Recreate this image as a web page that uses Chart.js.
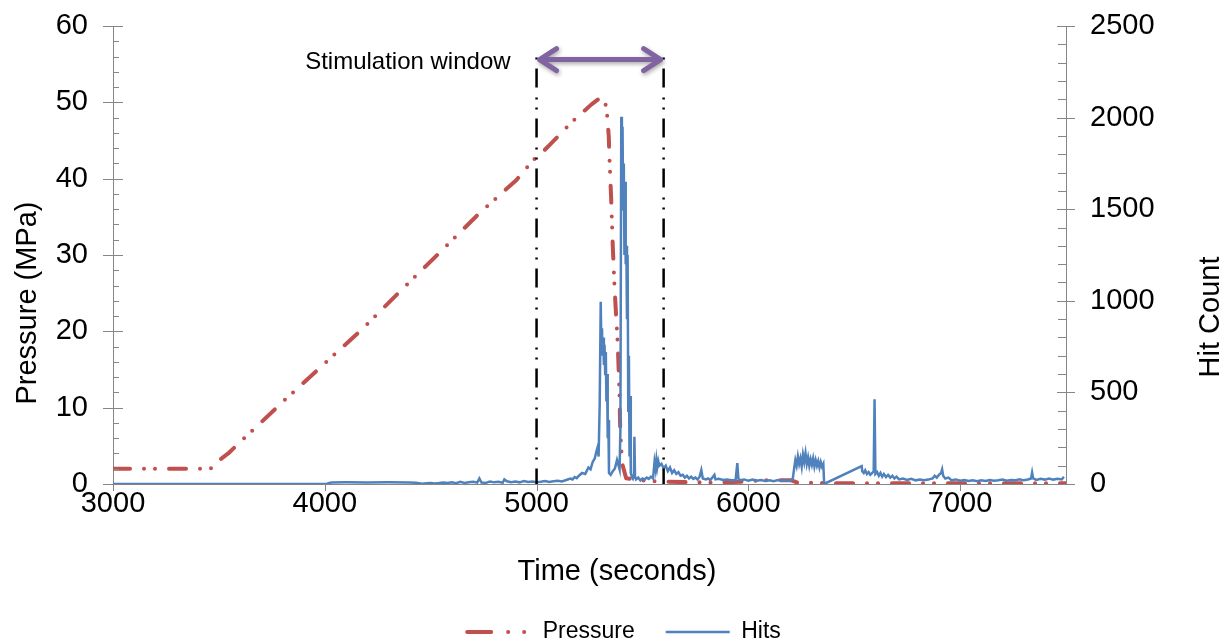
<!DOCTYPE html>
<html lang="en">
<head>
  <meta charset="UTF-8" />
  <title>Pressure and Hits</title>
  <script src="https://cdn.jsdelivr.net/npm/chart.js"></script>
  <style>
    body {
      margin: 0;
      background: #fff;
    }
    .wrap {
      width: 1228px;
      height: 641px;
      position: relative;
    }
  </style>
</head>
<body>
  <div class="wrap">
    <canvas id="pressureChart"></canvas>
  </div>

  <script>
    // Pressure (MPa) over time (s)
    const pressureTime = [3000, 3420, 3465, 3501, 3544, 3615, 3693, 3803, 3992, 4181, 4354, 4542, 4731, 4904, 4983,
      5022, 5061, 5170, 5258, 5305, 5321, 5332, 5341, 5344, 5352, 5360, 5368, 5376, 5384, 5392, 5395, 5404, 5423,
      5486, 5600, 5800, 6000, 6060, 6200, 6230, 6400, 7000, 7500];
    const pressureMPa = [2, 2, 2.05, 3.1, 4.0, 5.9, 7.9, 10.8, 15.6, 20.4, 25.2, 30.3, 35.5, 39.8, 42.4,
      43.3, 44.4, 47.5, 49.7, 50.7, 50.4, 48.8, 45.5, 42.9, 37.6, 31.1, 25.9, 21.9, 18.0, 11.4, 7.1, 2.7, 0.75,
      0.5, 0.3, 0.2, 0.3, 0.5, 0.5, 0.2, 0.1, 0.1, 0.1];

    // Hit count over time (s)
    const hitsTime = [
      3000, 4000, 4010, 4030, 4100, 4200, 4300, 4400, 4430,
      4460, 4480, 4500, 4520, 4540, 4560, 4580, 4600, 4620, 4640, 4660, 4680, 4700, 4720, 4730, 4740, 4760, 4780, 4800, 4820, 4840, 4848, 4860, 4880, 4900, 4920, 4940, 4960, 4980, 5000,
      5020, 5040, 5060, 5080, 5100, 5120, 5140, 5160, 5170, 5180, 5190, 5200, 5215, 5230, 5245, 5255, 5265, 5275, 5283,
      5288, 5293, 5298, 5303, 5306, 5309, 5312, 5315, 5318, 5321, 5324, 5327, 5330, 5333, 5336, 5339, 5342, 5350, 5360, 5370, 5380, 5385, 5392, 5396,
      5400, 5403, 5406, 5409, 5412, 5415, 5418, 5421, 5424, 5427, 5430, 5433, 5436, 5439, 5442, 5445, 5450,
      5455, 5460, 5462, 5465, 5470, 5480, 5490, 5500, 5510, 5520, 5530, 5540, 5550,
      5557, 5562, 5566, 5570, 5575, 5580, 5590, 5600, 5610, 5620, 5630, 5640, 5650, 5660, 5670, 5680, 5690, 5700,
      5710, 5720, 5730, 5740, 5750, 5760, 5770, 5778, 5785, 5800, 5810, 5820, 5830, 5840, 5845, 5860, 5880, 5900, 5920, 5940, 5948, 5953, 5960, 5980,
      6000, 6020, 6040, 6060, 6080, 6100, 6120, 6140, 6160, 6180, 6200, 6210,
      6217, 6222, 6228, 6234, 6240, 6246, 6252, 6258, 6264, 6270, 6276, 6282, 6288, 6294, 6300, 6306, 6312, 6318, 6324, 6330, 6336, 6342, 6348, 6354, 6358,
      6535, 6538, 6545, 6552, 6560, 6568, 6576, 6585, 6592, 6596, 6600, 6608, 6616, 6624, 6632, 6640, 6650, 6660, 6670, 6680, 6690, 6700,
      6712, 6730, 6750, 6770, 6790, 6810, 6830, 6850, 6870, 6880, 6890, 6900, 6910, 6915, 6920, 6930, 6945, 6960, 6980,
      7000, 7020, 7040, 7060, 7080, 7100, 7120, 7140, 7160, 7180, 7200, 7220, 7240, 7260, 7280, 7300, 7320, 7335, 7340, 7345, 7360, 7380, 7400, 7420, 7440, 7460, 7480, 7490
    ];
    const hitsCount = [
      0, 0, 2, 8, 9, 8, 9, 8, 7,
      2, 4, 6, 3, 5, 8, 5, 10, 4, 12, 6, 9, 12, 8, 30, 8, 6, 14, 9, 12, 7, 25, 15, 10, 13, 9, 16, 11, 14, 10,
      12, 16, 11, 15, 18, 14, 22, 30, 25, 38, 32, 45, 60, 55, 90, 80, 120, 140, 180,
      200, 150, 430, 995, 760, 850, 700, 800, 650, 760, 600, 720, 450, 600, 250, 350, 60, 50, 70, 85, 131, 110, 80, 300,
      2005, 1600, 1950, 1500, 1750, 1250, 1650, 1200, 1300, 900, 1250, 400, 700, 150, 480, 60, 40,
      30, 50, 258, 40, 25, 35, 20, 30, 25, 35, 28, 40, 30,
      120, 80, 131, 90, 125, 100, 110, 85, 100, 70, 90, 60, 75, 55, 65, 45, 50, 35,
      45, 30, 40, 28, 35, 25, 40, 76, 30, 25, 30, 22, 35, 50, 25, 28, 22, 25, 20, 22, 114, 30, 20, 25,
      18, 24, 18, 22, 16, 20, 15, 22, 18, 20, 17, 30,
      90, 130, 100, 150, 110, 140, 95, 160, 120, 168, 110, 145, 100, 135, 105, 140, 95, 130, 100, 125, 90, 120, 95, 110, 0,
      98, 70, 60, 75, 55, 65, 50, 60, 70, 463, 55, 65, 45, 60, 40, 55, 38, 50, 35, 45, 30, 40,
      25, 30, 22, 28, 20, 25, 20, 24, 30, 45, 35, 50, 60, 80, 45, 30, 35, 20, 25,
      18, 22, 16, 20, 15, 20, 16, 22, 18, 20, 24, 18, 22, 20, 26, 20, 25, 30, 62, 30, 22, 28, 24, 30, 24, 28, 25, 40
    ];

    // x tick labels and stimulation window start / end (s)
    const timeTicks = [3000, 4000, 5000, 6000, 7000];
    const windowTimes = [5000, 5600];

    const RED = '#C0504D';
    const BLUE = '#4F81BD';
    const PURPLE = '#8064A2';
    const AXIS = '#868686';
    const FONT = '"Liberation Sans", Arial, sans-serif';

    Chart.defaults.font.family = FONT;
    Chart.defaults.color = '#000';

    // tick marks like Excel: majors cross the axis, minors inside
    const axisTicks = {
      id: 'axisTicks',
      afterDraw(chart) {
        const { ctx, scales: { x, y, y1 } } = chart;
        ctx.save();
        ctx.strokeStyle = AXIS;
        ctx.lineWidth = 1;
        ctx.beginPath();
        for (let v = 0; v <= 60; v += 2) {
          const py = Math.round(y.getPixelForValue(v)) + 0.5;
          const major = v % 10 === 0;
          ctx.moveTo(major ? y.right - 10 : y.right, py);
          ctx.lineTo(y.right + (major ? 10 : 6), py);
        }
        for (let v = 0; v <= 2500; v += 100) {
          const py = Math.round(y1.getPixelForValue(v)) + 0.5;
          const major = v % 500 === 0;
          ctx.moveTo(y1.left - (major ? 9 : 8), py);
          ctx.lineTo(y1.left + (major ? 9 : 0), py);
        }
        x.ticks.forEach(t => {
          const px = Math.round(x.getPixelForValue(t.value)) + 0.5;
          ctx.moveTo(px, x.top);
          ctx.lineTo(px, x.top + 7);
        });
        ctx.stroke();

        // axis titles
        ctx.fillStyle = '#000';
        ctx.font = '29px ' + FONT;
        ctx.textAlign = 'center';
        ctx.textBaseline = 'middle';
        ctx.fillText('Time (seconds)', 617, 572);
        ctx.save();
        ctx.translate(28, 303);
        ctx.rotate(-Math.PI / 2);
        ctx.fillText('Pressure (MPa)', 0, 0);
        ctx.restore();
        ctx.save();
        ctx.translate(1211, 317);
        ctx.rotate(-Math.PI / 2);
        ctx.fillText('Hit Count', 0, 0);
        ctx.restore();
        ctx.restore();
      }
    };

    // dash-dot markers and double arrow for the stimulation window
    const stimWindow = {
      id: 'stimWindow',
      afterDatasetsDraw(chart) {
        const { ctx, chartArea, scales: { x, y } } = chart;
        const xa = x.getPixelForValue(windowTimes[0]);
        const xb = x.getPixelForValue(windowTimes[1]);
        const ya = y.getPixelForValue(55.6);
        ctx.save();
        ctx.strokeStyle = '#000';
        ctx.lineWidth = 2.5;
        ctx.setLineDash([19, 10, 2, 8, 2, 9]);
        ctx.lineDashOffset = 39;
        [xa, xb].forEach(px => {
          ctx.beginPath();
          ctx.moveTo(px, ya - 2);
          ctx.lineTo(px, chartArea.bottom);
          ctx.stroke();
        });

        ctx.setLineDash([]);
        ctx.strokeStyle = PURPLE;
        ctx.lineWidth = 5;
        ctx.lineCap = 'round';
        ctx.lineJoin = 'round';
        ctx.shadowColor = 'rgba(0,0,0,0.35)';
        ctx.shadowBlur = 4;
        ctx.shadowOffsetX = 1;
        ctx.shadowOffsetY = 2;
        ctx.beginPath();
        ctx.moveTo(xa + 3, ya);
        ctx.lineTo(xb - 3, ya);
        ctx.moveTo(xa + 20, ya - 11);
        ctx.lineTo(xa + 3, ya);
        ctx.lineTo(xa + 20, ya + 11);
        ctx.moveTo(xb - 20, ya - 11);
        ctx.lineTo(xb - 3, ya);
        ctx.lineTo(xb - 20, ya + 11);
        ctx.stroke();

        ctx.shadowColor = 'transparent';
        ctx.fillStyle = '#000';
        ctx.font = '24px ' + FONT;
        ctx.textAlign = 'right';
        ctx.textBaseline = 'middle';
        ctx.fillText('Stimulation window', xa - 26, ya + 3);
        ctx.restore();
      }
    };

    new Chart(document.getElementById('pressureChart'), {
      type: 'line',
      data: {
        datasets: [
          {
            label: 'Pressure',
            data: pressureTime.map((t, i) => ({ x: t, y: pressureMPa[i] })),
            yAxisID: 'y',
            borderColor: RED,
            backgroundColor: RED,
            borderWidth: 4,
            borderDash: [17, 14, 0, 11, 0, 14],
            borderCapStyle: 'round',
            borderJoinStyle: 'round',
            pointRadius: 0,
            tension: 0,
            order: 2
          },
          {
            label: 'Hits',
            data: hitsTime.map((t, i) => ({ x: t, y: hitsCount[i] })),
            yAxisID: 'y1',
            borderColor: BLUE,
            backgroundColor: BLUE,
            borderWidth: 2.5,
            pointRadius: 0,
            tension: 0,
            order: 1
          }
        ]
      },
      options: {
        responsive: true,
        maintainAspectRatio: false,
        animation: false,
        layout: {
          padding: { top: 26, right: 0, bottom: -12.5, left: 20 }
        },
        scales: {
          x: {
            type: 'linear',
            min: 3000,
            max: 7500,
            grid: { display: false, drawTicks: false },
            border: { color: AXIS, width: 1 },
            ticks: {
              padding: 3,
              font: { size: 29 },
              callback: v => String(v)
            },
            afterBuildTicks: s => { s.ticks = timeTicks.map(v => ({ value: v })); },
            afterFit: s => { s.height = 105.5; }
          },
          y: {
            position: 'left',
            min: 0,
            max: 60,
            // hidden tick marks only reserve the gap before the labels
            grid: { display: false, drawTicks: true, tickLength: 25 },
            border: { color: AXIS, width: 1 },
            ticks: {
              stepSize: 10,
              padding: 0,
              font: { size: 29 },
              callback: v => String(v)
            },
            afterFit: s => { s.width = 93; }
          },
          y1: {
            position: 'right',
            min: 0,
            max: 2500,
            grid: { display: false, drawTicks: true, tickLength: 24 },
            border: { color: AXIS, width: 1 },
            ticks: {
              stepSize: 500,
              padding: 0,
              font: { size: 29 },
              callback: v => String(v)
            },
            afterFit: s => { s.width = 162; }
          }
        },
        plugins: {
          legend: {
            position: 'bottom',
            labels: {
              usePointStyle: true,
              pointStyleWidth: 64,
              boxHeight: 8,
              padding: 31,
              font: { size: 23 },
              generateLabels: () => [
                {
                  text: 'Pressure', datasetIndex: 0, pointStyle: 'line', rotation: 180,
                  strokeStyle: RED, fillStyle: RED, fontColor: '#000', lineWidth: 4,
                  lineDash: [24, 17, 0, 16, 0, 20], lineCap: 'round'
                },
                {
                  text: 'Hits', datasetIndex: 1, pointStyle: 'line', rotation: 180,
                  strokeStyle: BLUE, fillStyle: BLUE, fontColor: '#000', lineWidth: 2.5,
                  lineDash: [], lineCap: 'butt'
                }
              ]
            }
          },
          tooltip: { enabled: false }
        }
      },
      plugins: [stimWindow, axisTicks]
    });
  </script>
</body>
</html>
